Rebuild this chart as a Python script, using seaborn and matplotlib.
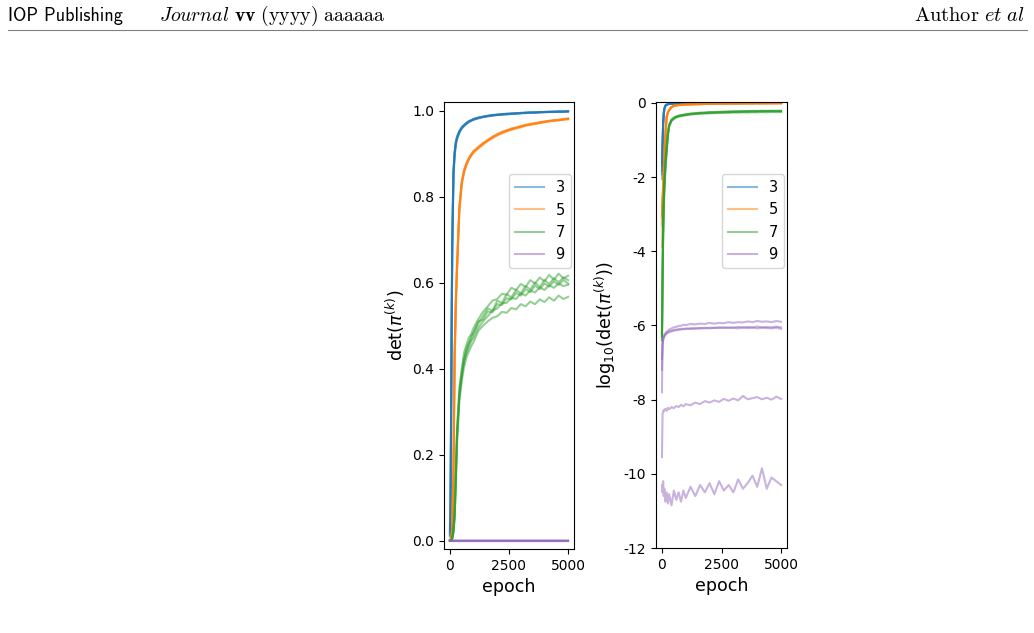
import numpy as np
import pandas as pd
import matplotlib
matplotlib.use("Agg")
import matplotlib.pyplot as plt
from matplotlib.lines import Line2D
import seaborn as sns

# ── Data ──────────────────────────────────────────────────────────────────────

EPOCHS = [0, 25, 50, 75, 100, 150, 200, 250, 300, 400, 500, 600, 700, 800, 900, 1000,
          1200, 1400, 1600, 1800, 2000, 2200, 2400, 2600, 2800, 3000,
          3200, 3400, 3600, 3800, 4000, 4200, 4400, 4600, 4800, 5000]

# k = 3 : det(pi^(k)) per run
DET_K3 = [
    [0.009, 0.06, 0.26, 0.50, 0.68, 0.85, 0.90, 0.925, 0.937, 0.951, 0.96, 0.966, 0.971, 0.974, 0.977, 0.98,
     0.983, 0.986, 0.987, 0.989, 0.99, 0.992, 0.991, 0.993, 0.993, 0.995, 0.994, 0.996, 0.995, 0.997, 0.996, 0.997, 0.997, 0.998, 0.997, 0.998],
    [0.025, 0.09, 0.30, 0.53, 0.70, 0.86, 0.905, 0.928, 0.94, 0.953, 0.962, 0.967, 0.972, 0.976, 0.978, 0.981,
     0.984, 0.985, 0.988, 0.989, 0.991, 0.991, 0.993, 0.993, 0.994, 0.994, 0.995, 0.995, 0.996, 0.996, 0.997, 0.997, 0.998, 0.997, 0.998, 0.998],
    [0.02, 0.075, 0.28, 0.51, 0.69, 0.855, 0.90, 0.922, 0.935, 0.95, 0.959, 0.965, 0.97, 0.975, 0.976, 0.979,
     0.983, 0.986, 0.988, 0.99, 0.99, 0.991, 0.992, 0.994, 0.993, 0.994, 0.996, 0.995, 0.996, 0.996, 0.997, 0.998, 0.997, 0.998, 0.998, 0.999],
    [0.015, 0.07, 0.27, 0.49, 0.67, 0.845, 0.895, 0.92, 0.933, 0.948, 0.958, 0.964, 0.969, 0.973, 0.977, 0.979,
     0.982, 0.985, 0.987, 0.988, 0.99, 0.991, 0.992, 0.992, 0.994, 0.994, 0.995, 0.996, 0.996, 0.996, 0.997, 0.997, 0.997, 0.998, 0.998, 0.998],
    [0.012, 0.065, 0.29, 0.52, 0.71, 0.858, 0.903, 0.926, 0.938, 0.952, 0.961, 0.967, 0.971, 0.975, 0.978, 0.98,
     0.984, 0.986, 0.988, 0.99, 0.991, 0.992, 0.993, 0.993, 0.994, 0.995, 0.995, 0.996, 0.996, 0.997, 0.997, 0.997, 0.998, 0.998, 0.998, 0.999],
]

# k = 5
DET_K5 = [
    [0.00013, 0.0008, 0.003, 0.009, 0.03, 0.15, 0.42, 0.55, 0.63, 0.77, 0.83, 0.858, 0.875, 0.887, 0.896, 0.904,
     0.915, 0.922, 0.932, 0.937, 0.945, 0.948, 0.954, 0.956, 0.961, 0.962, 0.967, 0.967, 0.971, 0.971, 0.975, 0.975, 0.978, 0.977, 0.98, 0.98],
    [0.001, 0.003, 0.006, 0.014, 0.04, 0.17, 0.44, 0.56, 0.64, 0.775, 0.835, 0.862, 0.878, 0.89, 0.899, 0.906,
     0.913, 0.925, 0.929, 0.94, 0.943, 0.951, 0.952, 0.959, 0.959, 0.965, 0.965, 0.97, 0.969, 0.974, 0.973, 0.977, 0.976, 0.979, 0.979, 0.982],
    [0.0008, 0.0025, 0.005, 0.012, 0.035, 0.16, 0.43, 0.555, 0.635, 0.772, 0.832, 0.86, 0.876, 0.888, 0.897, 0.905,
     0.914, 0.923, 0.931, 0.938, 0.944, 0.95, 0.953, 0.957, 0.96, 0.963, 0.966, 0.968, 0.97, 0.972, 0.974, 0.976, 0.977, 0.978, 0.98, 0.981],
    [0.0005, 0.002, 0.004, 0.011, 0.032, 0.155, 0.41, 0.545, 0.628, 0.768, 0.828, 0.857, 0.873, 0.886, 0.895, 0.902,
     0.912, 0.921, 0.93, 0.936, 0.942, 0.947, 0.952, 0.955, 0.959, 0.961, 0.965, 0.967, 0.969, 0.971, 0.973, 0.975, 0.977, 0.978, 0.979, 0.98],
    [0.0009, 0.0028, 0.0055, 0.013, 0.038, 0.165, 0.435, 0.558, 0.638, 0.774, 0.834, 0.861, 0.877, 0.889, 0.898, 0.906,
     0.916, 0.924, 0.932, 0.939, 0.946, 0.95, 0.955, 0.958, 0.961, 0.964, 0.967, 0.969, 0.971, 0.973, 0.975, 0.976, 0.978, 0.979, 0.981, 0.982],
]

# k = 7
DET_K7 = [
    [5e-7, 2e-5, 4e-4, 0.002, 0.006, 0.025, 0.07, 0.16, 0.26, 0.355, 0.40, 0.438, 0.455, 0.472, 0.48, 0.495,
     0.515, 0.532, 0.545, 0.558, 0.562, 0.574, 0.572, 0.588, 0.583, 0.597, 0.59, 0.606, 0.598, 0.612, 0.603, 0.618, 0.607, 0.621, 0.61, 0.616],
    [4e-7, 1.5e-5, 3e-4, 0.0015, 0.005, 0.022, 0.065, 0.15, 0.25, 0.345, 0.39, 0.425, 0.448, 0.46, 0.476, 0.484,
     0.505, 0.522, 0.54, 0.535, 0.558, 0.553, 0.573, 0.566, 0.583, 0.575, 0.592, 0.584, 0.6, 0.59, 0.606, 0.597, 0.61, 0.601, 0.612, 0.606],
    [6e-7, 2.5e-5, 5e-4, 0.0025, 0.007, 0.028, 0.06, 0.145, 0.24, 0.34, 0.386, 0.42, 0.44, 0.458, 0.468, 0.482,
     0.51, 0.514, 0.533, 0.531, 0.55, 0.548, 0.564, 0.561, 0.576, 0.57, 0.585, 0.578, 0.593, 0.585, 0.598, 0.591, 0.603, 0.595, 0.606, 0.598],
    [5e-7, 1.8e-5, 3.5e-4, 0.0018, 0.0055, 0.02, 0.055, 0.14, 0.235, 0.335, 0.38, 0.416, 0.436, 0.45, 0.464, 0.472,
     0.495, 0.51, 0.522, 0.535, 0.54, 0.552, 0.553, 0.565, 0.562, 0.575, 0.57, 0.582, 0.577, 0.589, 0.583, 0.594, 0.588, 0.598, 0.592, 0.595],
    [4e-7, 1.2e-5, 2.5e-4, 0.0012, 0.0045, 0.018, 0.05, 0.13, 0.225, 0.325, 0.37, 0.405, 0.426, 0.44, 0.452, 0.462,
     0.488, 0.5, 0.51, 0.518, 0.522, 0.532, 0.53, 0.541, 0.538, 0.55, 0.545, 0.556, 0.55, 0.561, 0.555, 0.566, 0.558, 0.57, 0.562, 0.567],
]

# k = 9 : log10(det(pi^(k))) per run
LOGDET_K9 = [
    [-6.9, -6.45, -6.35, -6.3, -6.25, -6.2, -6.16, -6.14, -6.11, -6.08, -6.05, -6.04, -6.01, -6.01, -5.98, -5.99,
     -5.96, -5.97, -5.95, -5.96, -5.93, -5.95, -5.93, -5.94, -5.91, -5.93, -5.91, -5.92, -5.89, -5.91, -5.88, -5.9, -5.89, -5.91, -5.88, -5.9],
    [-7.8, -6.55, -6.4, -6.33, -6.3, -6.25, -6.22, -6.2, -6.18, -6.16, -6.14, -6.13, -6.12, -6.11, -6.1, -6.1,
     -6.08, -6.09, -6.07, -6.08, -6.06, -6.07, -6.05, -6.07, -6.05, -6.06, -6.04, -6.06, -6.04, -6.05, -6.03, -6.05, -6.04, -6.05, -6.03, -6.05],
    [-7.2, -6.5, -6.38, -6.32, -6.28, -6.23, -6.2, -6.18, -6.16, -6.14, -6.12, -6.11, -6.1, -6.09, -6.09, -6.08,
     -6.09, -6.07, -6.08, -6.06, -6.08, -6.06, -6.07, -6.05, -6.07, -6.06, -6.08, -6.05, -6.07, -6.06, -6.08, -6.06, -6.07, -6.08, -6.06, -6.09],
    [-9.55, -8.4, -8.3, -8.32, -8.27, -8.25, -8.3, -8.22, -8.26, -8.2, -8.23, -8.17, -8.2, -8.14, -8.18, -8.12,
     -8.15, -8.08, -8.12, -8.04, -8.08, -8.02, -8.06, -7.98, -8.03, -7.97, -8.02, -7.9, -7.99, -7.96, -7.93, -7.99, -7.95, -8.0, -7.92, -7.98],
    [-10.3, -10.5, -10.2, -10.6, -10.4, -10.75, -10.5, -10.8, -10.55, -10.85, -10.45, -10.7, -10.5, -10.75, -10.45, -10.65,
     -10.35, -10.6, -10.3, -10.5, -10.25, -10.55, -10.2, -10.45, -10.3, -10.5, -10.15, -10.4, -10.25, -10.05, -10.35, -9.85, -10.4, -10.1, -10.2, -10.3],
]

K_LEVELS = [3, 5, 7, 9]
COLORS = {3: "#1f77b4", 5: "#ff7f0e", 7: "#2ca02c", 9: "#9467bd"}

# ── Long-form table ───────────────────────────────────────────────────────────

rows = []
run_id = 0
for k, runs in ((3, DET_K3), (5, DET_K5), (7, DET_K7)):
    for r in runs:
        for e, v in zip(EPOCHS, r):
            rows.append({"epoch": e, "k": k, "run": run_id, "det": v, "logdet": np.log10(v)})
        run_id += 1
for r in LOGDET_K9:
    for e, v in zip(EPOCHS, r):
        rows.append({"epoch": e, "k": 9, "run": run_id, "det": 10.0 ** v, "logdet": v})
    run_id += 1
df = pd.DataFrame(rows)

# ── Figure ────────────────────────────────────────────────────────────────────

plt.rcParams["axes.unicode_minus"] = False
TICK_FS = 10
LABEL_FS = 12.6
LEGEND_FS = 10.5

fig = plt.figure(figsize=(10.34, 6.33), dpi=100)
ax1 = fig.add_axes([444 / 1034, 84 / 633, 130 / 1034, 447 / 633])
ax2 = fig.add_axes([656 / 1034, 85 / 633, 131 / 1034, 446 / 633])

for ax, col in ((ax1, "det"), (ax2, "logdet")):
    sns.lineplot(data=df, x="epoch", y=col, hue="k", units="run", estimator=None,
                 palette=COLORS, hue_order=K_LEVELS, alpha=0.5, linewidth=1.5,
                 legend=False, ax=ax)
    ax.set_xlim(-250, 5250)
    ax.set_xticks([0, 2500, 5000])
    ax.set_xlabel("epoch", fontsize=LABEL_FS)
    ax.tick_params(labelsize=TICK_FS)
    handles = [Line2D([], [], color=COLORS[k], alpha=0.5, lw=1.5) for k in K_LEVELS]
    ax.legend(handles, [str(k) for k in K_LEVELS], loc="upper right",
              bbox_to_anchor=(0.975, 0.838), borderaxespad=0, fontsize=LEGEND_FS)

ax1.set_ylim(-0.0195, 1.0202)
ax1.set_yticks([0.0, 0.2, 0.4, 0.6, 0.8, 1.0])
ax1.set_ylabel(r"det($\pi^{(k)}$)", fontsize=LABEL_FS)

ax2.set_ylim(-12, 0.025)
ax2.set_yticks([0, -2, -4, -6, -8, -10, -12])
ax2.set_ylabel(r"log$_{10}$(det($\pi^{(k)}$))", fontsize=LABEL_FS)

# ── Page header ───────────────────────────────────────────────────────────────

fig.text(8 / 1034, 1 - 21 / 633, "IOP Publishing", family="cmss10",
         fontsize=13.1, va="baseline", ha="left")
fig.text(159 / 1034, 1 - 21 / 633,
         r"$\mathit{Journal}\ \mathbf{vv}\ \mathrm{(yyyy)\ aaaaaa}$",
         math_fontfamily="cm", fontsize=14.3, va="baseline", ha="left")
fig.text(1025 / 1034, 1 - 21 / 633, r"$\mathrm{Author}\ \mathit{et\ al}$",
         math_fontfamily="cm", fontsize=14.7, va="baseline", ha="right")
fig.add_artist(Line2D([8 / 1034, 1027 / 1034], [1 - 30 / 633, 1 - 30 / 633],
                      color="#808080", lw=0.8))

fig.savefig("out.png", dpi=100)
